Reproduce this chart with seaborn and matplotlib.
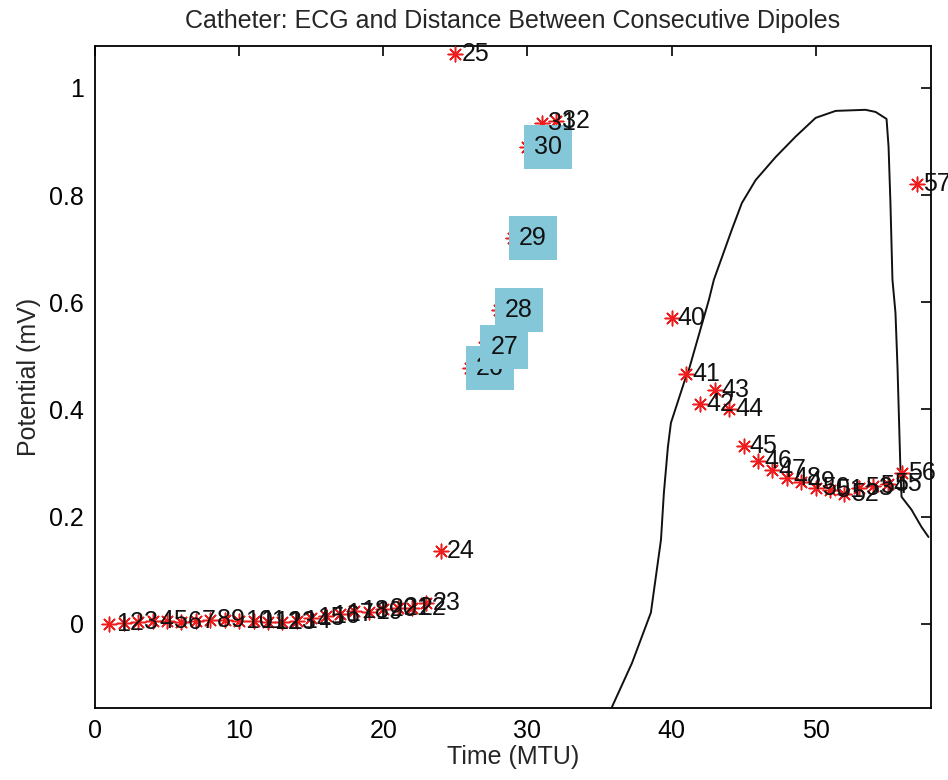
import matplotlib
matplotlib.use("Agg")
import matplotlib.pyplot as plt
import seaborn as sns
import pandas as pd

# Dipole index (time step) and distance between consecutive dipoles
dipole_idx = [1, 2, 3, 4, 5, 6, 7, 8, 9, 10, 11, 12, 13, 14, 15, 16, 17, 18, 19, 20,
              21, 22, 23, 24, 25, 26, 27, 28, 29, 30, 31, 32,
              40, 41, 42, 43, 44, 45, 46, 47, 48, 49, 50, 51, 52, 53, 54, 55, 56, 57]
dipole_dist = [0.000, 0.002, 0.004, 0.005, 0.005, 0.004, 0.006, 0.008, 0.008, 0.006,
               0.005, 0.004, 0.004, 0.006, 0.010, 0.014, 0.018, 0.024, 0.022, 0.027,
               0.030, 0.030, 0.038, 0.136, 1.063, 0.478, 0.517, 0.586, 0.720, 0.890,
               0.935, 0.938,
               0.571, 0.466, 0.410, 0.437, 0.400, 0.332, 0.304, 0.287, 0.272, 0.265,
               0.254, 0.250, 0.243, 0.254, 0.257, 0.260, 0.282, 0.821]
highlighted = [26, 27, 28, 29, 30]

# ECG trace
ecg_t = [35.87, 37.26, 38.57, 39.27, 39.47, 39.75, 39.96, 40.93, 41.14, 42.59, 42.94,
         44.18, 44.88, 45.84, 47.23, 48.61, 50.00, 51.39, 53.46, 54.16, 54.92, 55.06,
         55.19, 55.33, 55.54, 55.68, 55.89, 55.96, 56.65, 57.34, 57.83]
ecg_v = [-0.155, -0.073, 0.021, 0.157, 0.244, 0.330, 0.375, 0.455, 0.468, 0.604, 0.642,
         0.735, 0.785, 0.828, 0.871, 0.909, 0.944, 0.957, 0.959, 0.955, 0.942, 0.890,
         0.785, 0.642, 0.580, 0.479, 0.282, 0.237, 0.213, 0.181, 0.162]

x_ticks = [0, 10, 20, 30, 40, 50]
y_ticks = [0, 0.2, 0.4, 0.6, 0.8, 1.0]
y_tick_labels = ["0", "0.2", "0.4", "0.6", "0.8", "1"]

sns.set_style("white")
plt.rcParams["font.family"] = ["Liberation Sans", "DejaVu Sans"]
FS = 18

fig = plt.figure(figsize=(9.48, 7.8), dpi=100)
ax = fig.add_axes([0.1002, 0.0923, 0.8818, 0.8487])

ecg = pd.DataFrame({"t": ecg_t, "v": ecg_v})
sns.lineplot(data=ecg, x="t", y="v", sort=False, color="#111111", linewidth=1.4,
             ax=ax, zorder=2)

pts = pd.DataFrame({"idx": dipole_idx, "dist": dipole_dist})
sns.scatterplot(data=pts, x="idx", y="dist", marker=(8, 2, 0), color="#ee1c1c",
                s=110, linewidth=1.1, ax=ax, zorder=3)

for i, d in zip(dipole_idx, dipole_dist):
    kw = {}
    if i in highlighted:
        kw["bbox"] = dict(boxstyle="square,pad=0.4", facecolor="#84c7d9",
                          edgecolor="none")
    ax.annotate(str(i), (i, d), xytext=(4.5, 0), textcoords="offset points",
                ha="left", va="center", fontsize=FS, color="#111111",
                zorder=4, **kw)

ax.set_xlim(0, 58)
ax.set_ylim(-0.157, 1.078)
ax.set_xticks(x_ticks)
ax.set_yticks(y_ticks)
ax.set_yticklabels(y_tick_labels)
ax.tick_params(direction="in", length=7, width=1.2, top=True, right=True,
               labelsize=FS, colors="black", pad=8)
for sp in ax.spines.values():
    sp.set_visible(True)
    sp.set_color("black")
    sp.set_linewidth(1.3)

ax.set_xlabel("Time (MTU)", fontsize=FS, labelpad=1)
ax.set_ylabel("Potential (mV)", fontsize=FS, labelpad=6)
ax.set_title("Catheter: ECG and Distance Between Consecutive Dipoles",
             fontsize=FS, pad=13)

fig.savefig("out.png", dpi=100)
